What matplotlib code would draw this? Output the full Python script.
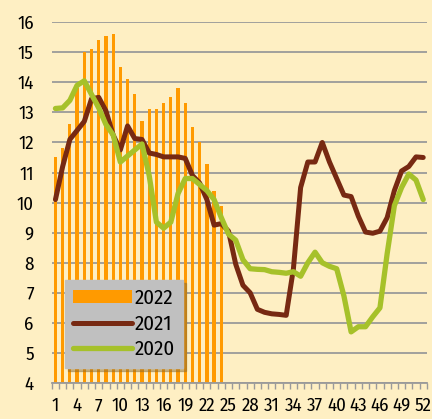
import matplotlib
matplotlib.use("Agg") # No display
import matplotlib.pyplot as plt # For plotting
import numpy as np # For numerical operations

plt.rcParams['font.family'] = ['Fira Sans Condensed', 'DejaVu Sans'] # Condensed font

# Data
weeks = np.arange(1, 53) # Week numbers
weeks_2022 = np.arange(1, 25) # Weeks with 2022 data
values_2022 = [11.5, 11.8, 12.6, 13.8, 15.0, 15.1, 15.4, 15.55, 15.6, 14.5, 14.1, 13.6,
               12.7, 13.1, 13.1, 13.3, 13.5, 13.8, 13.3, 12.5, 12.0, 11.3, 10.4, 9.9]
values_2021 = [10.1, 11.2, 12.1, 12.4, 12.7, 13.45, 13.5, 13.05, 12.25, 11.75, 12.55, 12.13,
               12.1, 11.65, 11.6, 11.52, 11.52, 11.52, 11.47, 10.9, 10.65, 10.1, 9.25, 9.3,
               9.05, 7.95, 7.25, 7.0, 6.45, 6.35, 6.3, 6.28, 6.25, 7.8, 10.5, 11.35,
               11.35, 12.0, 11.35, 10.8, 10.25, 10.2, 9.55, 9.02, 8.98, 9.05, 9.5, 10.4,
               11.05, 11.2, 11.52, 11.5]
values_2020 = [13.13, 13.15, 13.4, 13.9, 14.05, 13.6, 13.15, 12.6, 12.25, 11.35, 11.55, 11.75,
               11.95, 10.9, 9.35, 9.15, 9.35, 10.3, 10.8, 10.8, 10.6, 10.4, 10.1, 9.5,
               8.95, 8.75, 8.1, 7.8, 7.78, 7.77, 7.7, 7.68, 7.65, 7.7, 7.55, 8.0,
               8.35, 8.0, 7.88, 7.8, 6.9, 5.7, 5.87, 5.87, 6.2, 6.5, 8.3, 9.9,
               10.5, 10.95, 10.75, 10.1]
x_labels = [str(w) for w in range(1, 53, 3)] # Every third week
y_ticks = list(range(4, 17)) # 4..16

BG = "#FEEFC3" # Background colour
ORANGE = "#FF9A00" # 2022 bars
BROWN = "#772912" # 2021 line
GREEN = "#A6C12A" # 2020 line
GRID = "#9A9A9A" # Gridline colour

fig = plt.figure(figsize=(4.32, 4.19), dpi=100, facecolor=BG) # Create figure
ax = fig.add_axes([0.120, 0.086, 0.868, 0.861], facecolor=BG) # Plot area

ax.set_axisbelow(True) # Grid behind data
ax.yaxis.grid(True, color=GRID, linewidth=1.3) # Horizontal gridlines
bars = ax.bar(weeks_2022, values_2022, width=0.45, color=ORANGE, label="2022", zorder=2) # 2022 bars
line21, = ax.plot(weeks, values_2021, color=BROWN, linewidth=3.6, solid_joinstyle='round',
                  solid_capstyle='round', label="2021", zorder=3) # 2021 line
line20, = ax.plot(weeks, values_2020, color=GREEN, linewidth=3.8, solid_joinstyle='round',
                  solid_capstyle='round', label="2020", zorder=4) # 2020 line

ax.set_xlim(0.5, 52.5) # Category range
ax.set_ylim(4, 16) # Value range
ax.set_yticks(y_ticks) # Y ticks
ax.tick_params(axis='y', length=0, labelsize=13.5, pad=13) # Y labels
ax.set_xticks(range(1, 53, 3)) # Major x ticks (labels only)
ax.set_xticklabels(x_labels) # X labels
ax.set_xticks(np.arange(0.5, 53, 1), minor=True) # Tick marks between weeks
ax.tick_params(axis='x', which='major', length=0, labelsize=13.5, pad=10) # X labels
ax.tick_params(axis='x', which='minor', length=4, width=1, color=GRID, direction='out') # X marks

for side in ['left', 'right', 'top']: # Hide spines
    ax.spines[side].set_visible(False)
ax.spines['bottom'].set_color(GRID) # Bottom axis line
ax.spines['bottom'].set_linewidth(1.3)

leg = ax.legend([bars, line21, line20], ["2022", "2021", "2020"],
                loc='lower left', bbox_to_anchor=(0.035, 0.042), borderaxespad=0,
                fontsize=15, frameon=True, fancybox=False, facecolor="#C0C0C0",
                edgecolor="#C0C0C0", framealpha=1, handlelength=2.8, handleheight=0.65,
                handletextpad=0.15, labelspacing=0.3, borderpad=0.4,
                shadow={'color': '#8a6a30', 'alpha': 0.45}) # Legend
leg.set_zorder(5)

fig.savefig("out.png", dpi=100, facecolor=BG) # Save figure
